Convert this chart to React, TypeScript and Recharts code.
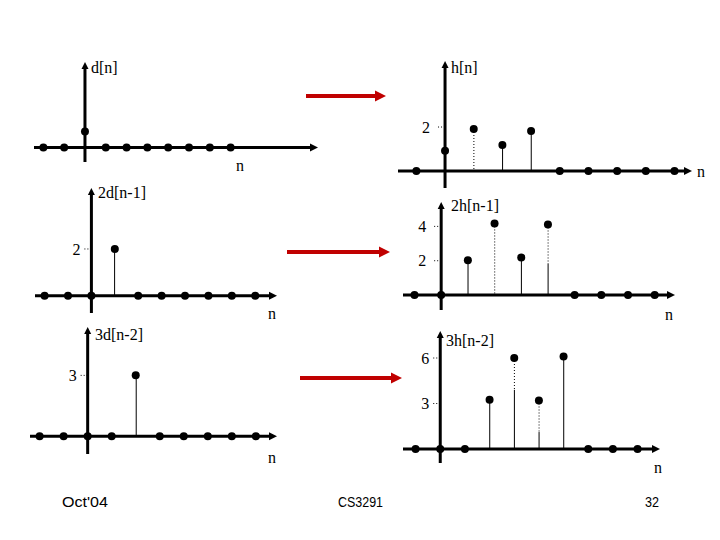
import { ComposedChart, Bar, Scatter, XAxis, YAxis, ReferenceLine } from "recharts"

// sample indices and values
const dN = [-2, -1, 0, 1, 2, 3, 4, 5, 6, 7]
const dValues = [0, 0, 1, 0, 0, 0, 0, 0, 0, 0]
const dTicks: number[] = []

const hN = [-1, 0, 1, 2, 3, 4, 5, 6, 7, 8]
const hValues = [0, 0.92, 1.91, 1.18, 1.82, 0, 0, 0, 0, 0]
const hTicks = [2]

const d1N = [-2, -1, 0, 1, 2, 3, 4, 5, 6, 7]
const d1Values = [0, 0, 0, 2, 0, 0, 0, 0, 0, 0]
const d1Ticks = [2]

const h1N = [-1, 0, 1, 2, 3, 4, 5, 6, 7, 8]
const h1Values = [0, 0, 2.03, 4.17, 2.19, 4.11, 0, 0, 0, 0]
const h1Ticks = [2, 4]

const d2N = [-2, -1, 0, 1, 2, 3, 4, 5, 6, 7]
const d2Values = [0, 0, 0, 0, 3, 0, 0, 0, 0, 0]
const d2Ticks = [3]

const h2N = [-1, 0, 1, 2, 3, 4, 5, 6, 7, 8]
const h2Values = [0, 0, 0, 3.25, 6.0, 3.2, 6.1, 0, 0, 0]
const h2Ticks = [3, 6]

// share of each stem drawn dotted (from the top), a drawing style only
const hDotted = [0, 0, 1, 0, 0, 0, 0, 0, 0, 0]
const h1Dotted = [0, 0, 0, 1, 0, 0.55, 0, 0, 0, 0]
const h2Dotted = [0, 0, 0, 0, 0.35, 0.65, 0, 0, 0, 0]
const noDotted = [0, 0, 0, 0, 0, 0, 0, 0, 0, 0]

const SERIF = "'Liberation Serif', 'DejaVu Serif', serif"

type Panel = {
  n: number[]
  values: number[]
  ticks: number[]
  dotted: number[]
  left: number
  top: number
  width: number
  height: number
  xDomain: [number, number]
  yDomain: [number, number]
  tickOffset: number
}

const panels: Panel[] = [
  { n: dN, values: dValues, ticks: dTicks, dotted: noDotted, left: 34, top: 62, width: 284, height: 100, xDomain: [-2.45, 11.2], yDomain: [-0.9, 5.34], tickOffset: 5 },
  { n: hN, values: hValues, ticks: hTicks, dotted: hDotted, left: 398, top: 61, width: 294, height: 127, xDomain: [-1.64, 8.61], yDomain: [-0.77, 5.0], tickOffset: 8 },
  { n: d1N, values: d1Values, ticks: d1Ticks, dotted: noDotted, left: 35, top: 188, width: 242, height: 125, xDomain: [-2.41, 7.93], yDomain: [-0.74, 4.61], tickOffset: 4 },
  { n: h1N, values: h1Values, ticks: h1Ticks, dotted: h1Dotted, left: 403, top: 202, width: 272, height: 108, xDomain: [-1.43, 8.76], yDomain: [-0.87, 5.42], tickOffset: 8 },
  { n: d2N, values: d2Values, ticks: d2Ticks, dotted: noDotted, left: 30, top: 327, width: 247, height: 127, xDomain: [-2.4, 7.88], yDomain: [-0.87, 5.38], tickOffset: 4 },
  { n: h2N, values: h2Values, ticks: h2Ticks, dotted: h2Dotted, left: 403, top: 331, width: 257, height: 132, xDomain: [-1.51, 8.91], yDomain: [-0.92, 7.78], tickOffset: 4 },
]

const titles = [
  { text: "d[n]", x: 91, y: 67 },
  { text: "h[n]", x: 451, y: 67 },
  { text: "2d[n-1]", x: 98, y: 192 },
  { text: "2h[n-1]", x: 451, y: 205 },
  { text: "3d[n-2]", x: 95, y: 334 },
  { text: "3h[n-2]", x: 446, y: 340 },
]

const nLabels = [
  { x: 240, y: 165 },
  { x: 701, y: 171 },
  { x: 272, y: 313 },
  { x: 669, y: 314 },
  { x: 272, y: 457 },
  { x: 658, y: 467 },
]

const arrows = [
  { x1: 306, x2: 386, y: 96 },
  { x1: 287, x2: 390, y: 252 },
  { x1: 300, x2: 402, y: 378 },
]

const footers = [
  { text: "Oct'04", x: 62, len: 46 },
  { text: "CS3291", x: 338, len: 45 },
  { text: "32", x: 645, len: 14 },
]

function XAxisLine(props: any) {
  const { x1, x2, y1 } = props
  const right = Math.max(x1, x2)
  const left = Math.min(x1, x2)
  return (
    <g>
      <line x1={left} y1={y1} x2={right - 4} y2={y1} stroke="#000" strokeWidth={3} />
      <polygon points={`${right},${y1} ${right - 8},${y1 - 4} ${right - 8},${y1 + 4}`} fill="#000" />
    </g>
  )
}

function YAxisLine(props: any) {
  const { x1, y1, y2 } = props
  const top = Math.min(y1, y2)
  const bottom = Math.max(y1, y2)
  return (
    <g>
      <line x1={x1} y1={top + 4} x2={x1} y2={bottom} stroke="#000" strokeWidth={3} />
      <polygon points={`${x1},${top} ${x1 - 3.5},${top + 7} ${x1 + 3.5},${top + 7}`} fill="#000" />
    </g>
  )
}

function makeStem(p: Panel) {
  return (props: any) => {
    const { x, y, width, height, payload } = props
    if (!height || height <= 0.5) return <g />
    const cx = x + width / 2
    const i = p.n.indexOf(payload?.n)
    const frac = i >= 0 ? p.dotted[i] : 0
    const split = y + height * frac
    return (
      <g>
        {frac > 0 && <line x1={cx} y1={y} x2={cx} y2={split} stroke="#000" strokeWidth={1} strokeDasharray="1 2" />}
        {frac < 1 && <line x1={cx} y1={split} x2={cx} y2={y + height} stroke="#000" strokeWidth={1} />}
      </g>
    )
  }
}

function DotShape(props: any) {
  const { cx, cy } = props
  return <ellipse cx={cx} cy={cy} rx={4} ry={4} fill="#000" />
}

function StemPanel({ p }: { p: Panel }) {
  const data = p.n.map((n, i) => ({ n, v: p.values[i] }))
  const unitX = p.width / (p.xDomain[1] - p.xDomain[0])
  const tickLen = 7 / unitX
  return (
    <div style={{ position: "absolute", left: p.left, top: p.top }}>
      <ComposedChart width={p.width} height={p.height} data={data} margin={{ top: 0, right: 0, bottom: 0, left: 0 }}>
        <XAxis type="number" dataKey="n" domain={p.xDomain} allowDataOverflow hide />
        <YAxis type="number" domain={p.yDomain} allowDataOverflow hide />
        <Bar dataKey="v" barSize={1} shape={makeStem(p)} isAnimationActive={false} />
        <ReferenceLine y={0} stroke="#000" shape={XAxisLine} />
        <ReferenceLine x={0} stroke="#000" shape={YAxisLine} />
        {p.ticks.map((t) => (
          <ReferenceLine
            key={t}
            segment={[{ x: -tickLen, y: t }, { x: 0, y: t }]}
            stroke="#000"
            strokeDasharray="1 2"
            label={{ value: String(t), position: "left", offset: p.tickOffset, fill: "#000", fontSize: 16, fontFamily: SERIF }}
          />
        ))}
        <Scatter dataKey="v" shape={DotShape} isAnimationActive={false} />
      </ComposedChart>
    </div>
  )
}

export default function App() {
  return (
    <div style={{ position: "absolute", left: 0, top: 0, width: 720, height: 540, background: "#fff", overflow: "hidden" }}>
      <svg width={720} height={540} style={{ position: "absolute", left: 0, top: 0 }}>
        {titles.map((t) => (
          <text key={t.text} x={t.x} y={t.y} dominantBaseline="central" fontFamily={SERIF} fontSize={16} fill="#000">
            {t.text}
          </text>
        ))}
        {nLabels.map((l, i) => (
          <text key={i} x={l.x} y={l.y} textAnchor="middle" dominantBaseline="central" fontFamily={SERIF} fontSize={16} fill="#000">
            n
          </text>
        ))}
        {arrows.map((a, i) => (
          <g key={i}>
            <line x1={a.x1} y1={a.y} x2={a.x2 - 9} y2={a.y} stroke="#c00000" strokeWidth={4} />
            <polygon points={`${a.x2},${a.y} ${a.x2 - 11},${a.y - 5.5} ${a.x2 - 11},${a.y + 5.5}`} fill="#c00000" />
          </g>
        ))}
        <g fontFamily="'Liberation Sans', Arial, sans-serif" fontSize={15} fill="#000">
          {footers.map((f) => (
            <text key={f.text} x={f.x} y={501} dominantBaseline="central" textLength={f.len} lengthAdjust="spacingAndGlyphs">
              {f.text}
            </text>
          ))}
        </g>
      </svg>
      {panels.map((p, i) => (
        <StemPanel key={i} p={p} />
      ))}
    </div>
  )
}
